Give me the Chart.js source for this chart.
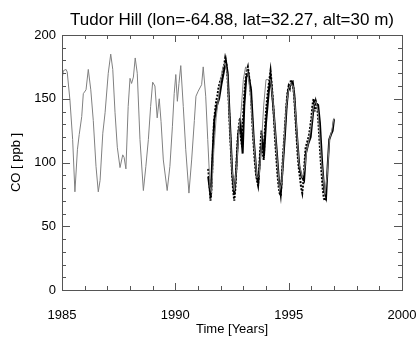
<!DOCTYPE html>
<html><head><meta charset="utf-8">
<script src="https://cdn.jsdelivr.net/npm/chart.js@4.4.1/dist/chart.umd.min.js"></script>
<style>html,body{margin:0;padding:0;background:#fff}#w{width:419px;height:341px}</style>
</head><body><div id="w"><canvas id="c" width="419" height="341"></canvas></div>
<script>
// ---- data ----
const titleText = "Tudor Hill (lon=-64.88, lat=32.27, alt=30 m)";
const xTitle = "Time [Years]";
const yTitle = "CO [ ppb ]";
const xMajorTicks = [1985, 1990, 1995, 2000];
const xMinorTicks = [1986,1987,1988,1989,1991,1992,1993,1994,1996,1997,1998,1999];
const yMajorTicks = [0, 50, 100, 150, 200];
const yMinorTicks = [10,20,30,40,60,70,80,90,110,120,130,140,160,170,180,190];

const grayYears = [1985.0,1985.06,1985.18,1985.23,1985.35,1985.47,1985.57,1985.68,1985.76,1985.87,1985.94,1986.06,1986.16,1986.27,1986.38,1986.5,1986.6,1986.68,1986.8,1986.9,1987.04,1987.15,1987.24,1987.34,1987.44,1987.56,1987.68,1987.74,1987.82,1987.92,1988.0,1988.07,1988.15,1988.23,1988.32,1988.44,1988.59,1988.7,1988.81,1988.91,1989.0,1989.1,1989.2,1989.29,1989.37,1989.47,1989.64,1989.76,1989.87,1989.95,1990.02,1990.09,1990.16,1990.24,1990.35,1990.46,1990.6,1990.72,1990.84,1990.91,1991.01,1991.16,1991.23,1991.34,1991.43,1991.53,1991.6,1991.7,1991.8,1991.9,1992.0,1992.1,1992.2,1992.3,1992.4,1992.5,1992.6,1992.7,1992.8,1992.9,1993.0,1993.1,1993.2,1993.3,1993.45,1993.6,1993.7,1993.8,1993.9,1994.0,1994.1,1994.2,1994.3,1994.45,1994.6,1994.7,1994.8,1994.9,1995.0,1995.1,1995.2,1995.3,1995.45,1995.6,1995.7,1995.8,1995.9,1996.0,1996.1,1996.2,1996.3,1996.45,1996.6,1996.7,1996.8,1996.9,1997.0];
const grayValues = [165,172,173,171,149,118,77,110,122,136,154,157,173,157,133,97,77,86,123,139,170,185,173,139,112,96,106,104,95,144,166,162,167,182,170,118,78,97,118,144,163,160,135,150,132,102,78,97,128,154,169,148,162,176,144,110,76,102,133,152,156,161,175,152,118,81,76,110,135,150,165,175,178,168,130,95,78,95,125,140,165,175,170,155,118,88,90,115,145,165,165,165,150,112,78,85,118,145,158,162,160,140,100,88,95,110,118,130,145,148,140,100,75,90,118,125,135];

const modelYears = [1991.45,1991.56,1991.63,1991.72,1991.82,1991.93,1992.04,1992.16,1992.23,1992.31,1992.41,1992.51,1992.6,1992.68,1992.78,1992.87,1992.97,1993.04,1993.13,1993.22,1993.34,1993.46,1993.59,1993.66,1993.77,1993.84,1993.91,1994.0,1994.13,1994.2,1994.32,1994.47,1994.57,1994.65,1994.74,1994.84,1994.91,1994.98,1995.09,1995.18,1995.25,1995.35,1995.47,1995.57,1995.68,1995.76,1995.87,1995.97,1996.06,1996.13,1996.23,1996.3,1996.38,1996.48,1996.57,1996.65,1996.72,1996.79,1996.87,1996.94,1997.0];
const modelValues = [89,73,102,133,144,150,162,173,180,170,131,92,75,92,123,131,107,144,167,170,157,118,89,84,110,118,105,131,157,168,144,110,86,75,97,123,144,157,161,163,153,125,97,89,86,107,115,120,136,148,146,145,131,99,78,73,97,118,122,125,134];

const obsYears = [1991.45,1991.5,1991.55,1991.6,1991.65,1991.7,1991.75,1991.8,1991.85,1991.9,1991.95,1992.0,1992.05,1992.1,1992.15,1992.2,1992.25,1992.3,1992.35,1992.4,1992.45,1992.5,1992.55,1992.6,1992.65,1992.7,1992.75,1992.8,1992.85,1992.9,1992.95,1993.0,1993.05,1993.1,1993.15,1993.2,1993.25,1993.3,1993.35,1993.4,1993.45,1993.5,1993.55,1993.6,1993.65,1993.7,1993.75,1993.8,1993.85,1993.9,1993.95,1994.0,1994.05,1994.1,1994.15,1994.2,1994.25,1994.3,1994.35,1994.4,1994.45,1994.5,1994.55,1994.6,1994.65,1994.7,1994.75,1994.8,1994.85,1994.9,1994.95,1995.0,1995.05,1995.1,1995.15,1995.2,1995.25,1995.3,1995.35,1995.4,1995.45,1995.5,1995.55,1995.6,1995.65,1995.7,1995.75,1995.8,1995.85,1995.9,1995.95,1996.0,1996.05,1996.1,1996.15,1996.2,1996.25,1996.3,1996.35,1996.4,1996.45,1996.5,1996.55,1996.6,1996.65];
const obsValues = [95,85,70,80,105,130,140,148,152,158,162,165,168,172,176,182,178,168,150,128,110,92,78,70,80,100,118,128,135,118,112,140,155,165,172,175,168,160,148,130,115,102,92,86,82,95,112,125,108,102,125,140,150,158,165,172,162,150,135,118,105,92,82,76,74,88,105,118,132,145,155,160,158,165,163,160,150,135,120,105,95,88,80,76,85,100,112,115,118,122,128,135,145,150,140,148,145,135,120,105,92,80,72,70,72];

const pts = (xs, ys) => xs.map((x, i) => ({x: x, y: ys[i]}));
const FONT = "'Liberation Sans', Arial, Helvetica, sans-serif";

const framePlugin = {
  id: 'idlFrame',
  afterDraw(chart) {
    const {ctx, chartArea: a} = chart;
    const xs = chart.scales.x, ys = chart.scales.y;
    ctx.save();
    // title centred over the plot area
    ctx.fillStyle = '#000';
    ctx.font = "17px " + FONT;
    ctx.textAlign = 'center';
    ctx.textBaseline = 'middle';
    ctx.fillText(titleText, (a.left + a.right) / 2, 20);
    // frame and inward ticks
    ctx.strokeStyle = '#555';
    ctx.lineWidth = 1;
    ctx.strokeRect(a.left + 0.5, a.top + 0.5, a.right - a.left, a.bottom - a.top);
    ctx.beginPath();
    const xt = (v, len) => {
      const px = Math.round(xs.getPixelForValue(v)) + 0.5;
      ctx.moveTo(px, a.bottom); ctx.lineTo(px, a.bottom - len);
      ctx.moveTo(px, a.top); ctx.lineTo(px, a.top + len);
    };
    const yt = (v, len) => {
      const py = Math.round(ys.getPixelForValue(v)) + 0.5;
      ctx.moveTo(a.left, py); ctx.lineTo(a.left + len, py);
      ctx.moveTo(a.right, py); ctx.lineTo(a.right - len, py);
    };
    xMajorTicks.forEach(v => xt(v, 7));
    xMinorTicks.forEach(v => xt(v, 4));
    yMajorTicks.forEach(v => yt(v, 8));
    yMinorTicks.forEach(v => yt(v, 4));
    ctx.stroke();
    ctx.restore();
  }
};

new Chart(document.getElementById('c'), {
  type: 'line',
  data: {
    datasets: [
      {data: pts(grayYears, grayValues), borderColor: '#808080', borderWidth: 1, pointRadius: 0, tension: 0},
      {data: pts(modelYears, modelValues), borderColor: '#000', borderWidth: 2, pointRadius: 0, tension: 0},
      {data: pts(obsYears, obsValues), borderColor: '#000', borderWidth: 2, borderDash: [2, 1.5], pointRadius: 0, tension: 0}
    ]
  },
  options: {
    responsive: false,
    animation: false,
    layout: {padding: {left: 0, right: 17, top: 35, bottom: 0}},
    plugins: {
      legend: {display: false},
      tooltip: {enabled: false},
      title: {display: false}
    },
    scales: {
      x: {
        type: 'linear', min: 1985, max: 2000,
        afterBuildTicks: s => { s.ticks = xMajorTicks.map(v => ({value: v})); },
        afterFit: s => { s.height = 51; s.paddingLeft = 0; s.paddingRight = 0; },
        grid: {display: false, drawTicks: false}, border: {display: false},
        ticks: {color: '#000', font: {family: FONT, size: 13}, padding: 18, maxRotation: 0, callback: v => String(v)},
        title: {display: true, text: xTitle, color: '#000', font: {family: FONT, size: 13}, padding: {top: 2, bottom: 4}}
      },
      y: {
        type: 'linear', min: 0, max: 200,
        afterBuildTicks: s => { s.ticks = yMajorTicks.map(v => ({value: v})); },
        afterFit: s => { s.width = 62; },
        grid: {display: false, drawTicks: false}, border: {display: false},
        ticks: {color: '#000', font: {family: FONT, size: 13}, padding: 6},
        title: {display: true, text: yTitle, color: '#000', font: {family: FONT, size: 13}, padding: {top: 9, bottom: 4}}
      }
    }
  },
  plugins: [framePlugin]
});
</script>
</body></html>
